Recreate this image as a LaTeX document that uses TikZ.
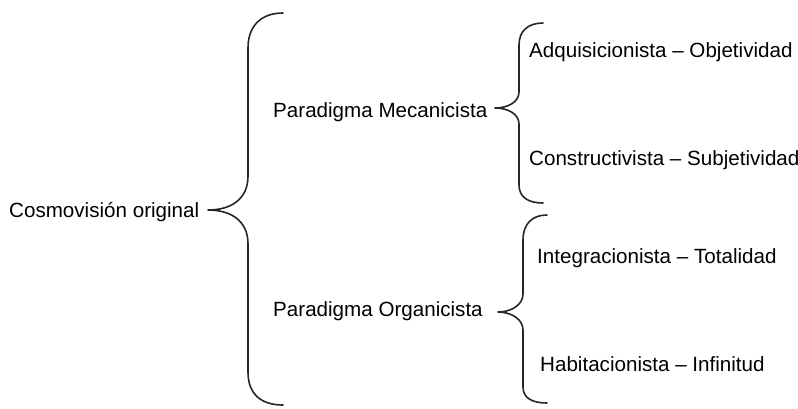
\documentclass[tikz,border=0pt]{standalone}
\usepackage{fontspec}
\setmainfont{Liberation Sans}
\begin{document}
\begin{tikzpicture}[x=1pt,y=-1pt,
  lbl/.style={anchor=base west,inner sep=0pt,font=\fontsize{20.6}{24}\selectfont,text=black},
  brace/.style={line width=1.6pt,draw=black!85,line cap=round,line join=round}]
\useasboundingbox (0,0) rectangle (798,408);
\node[lbl] (cosmo) at (9,217) {Cosmovisión original};
\node[lbl] (meca) at (273,117) {Paradigma Mecanicista};
\node[lbl] (orga) at (273,316) {Paradigma Organicista};
\node[lbl] (adq) at (529,57) {Adquisicionista – Objetividad};
\node[lbl] (cons) at (529,165) {Constructivista – Subjetividad};
\node[lbl] (integ) at (537,263) {Integracionista – Totalidad};
\node[lbl] (habit) at (540,371) {Habitacionista – Infinitud};
% big brace
\draw[brace] (283,13) .. controls (262,13) and (248,25) .. (248,48) -- (248,176)
  .. controls (248,200) and (230,210) .. (208,210)
  .. controls (230,210) and (248,220) .. (248,244) -- (248,372)
  .. controls (248,395) and (262,405) .. (283,405);
% mecanicista brace
\draw[brace] (543,23) .. controls (528,23) and (519,31) .. (519,45) -- (519,92)
  .. controls (519,102) and (508,108) .. (495,108)
  .. controls (508,108) and (519,114) .. (519,124) -- (519,185)
  .. controls (519,197) and (528,203) .. (543,203);
% organicista brace
\draw[brace] (547,215) .. controls (532,215) and (523,224) .. (523,240) -- (523,294)
  .. controls (523,305) and (511,312) .. (498,312)
  .. controls (511,312) and (523,319) .. (523,330) -- (523,387)
  .. controls (523,398) and (532,403) .. (547,403);
\end{tikzpicture}
\end{document}
